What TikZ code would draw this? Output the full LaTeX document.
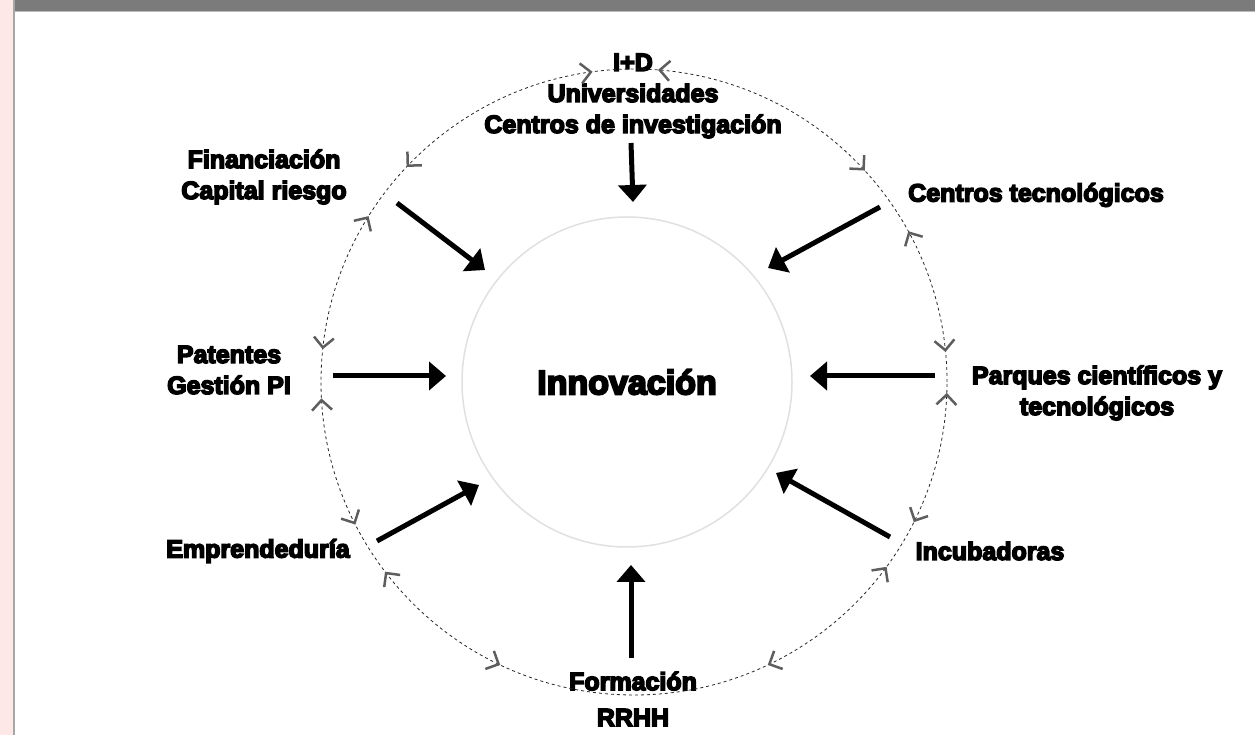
\documentclass[tikz,border=0pt]{standalone}
\usepackage{fontspec}
\setmainfont{Liberation Sans}
\newfontfamily\heavy{Liberation Sans Bold}[FakeBold=6]
\usetikzlibrary{arrows.meta,calc}

\definecolor{bandgray}{HTML}{7B7B7B}
\definecolor{stripink}{HTML}{FDE8E7}
\definecolor{ringgray}{HTML}{5E5E5E}
\definecolor{circgray}{HTML}{E0E0E0}

\tikzset{
	lbl/.style={font=\heavy\fontsize{25}{31}\selectfont, align=center, inner sep=0pt},
	feed/.style={line width=5pt, -{Triangle[length=17pt,width=28pt]}},
	ring/.style={draw=black!85, line width=0.8pt, dash pattern=on 3pt off 3pt},
	ringtip/.style={draw=ringgray, line width=0.1pt, -{Straight Barb[length=10pt,width=20pt,line width=2.5pt,color=ringgray]}},
}

\begin{document}
\begin{tikzpicture}[x=1pt, y=1pt]
	\useasboundingbox (0,0) rectangle (1255,735);

	\fill[stripink] (0,0) rectangle (13,735);
	\fill[gray!70] (13,0) rectangle (14.5,735);
	\fill[bandgray] (14.5,724) rectangle (1255,735);
	\fill[gray!55] (14.5,722.5) rectangle (1255,724);

	\node[circle, draw=circgray, line width=1.5pt, minimum size=330pt, inner sep=0pt,
		font=\heavy\fontsize{34}{40}\selectfont] (innov) at (627,353) {Innovación};

	\node[lbl] (id) at (633,639) {I+D\\Universidades\\Centros de investigación};
	\node[lbl] (fin) at (264,558) {Financiación\\Capital riesgo};
	\node[lbl] (ctec) at (1036,540) {Centros tecnológicos};
	\node[lbl] (pat) at (229,365) {Patentes\\Gestión PI};
	\node[lbl] (parq) at (1097,342) {Parques científicos y\\tecnológicos};
	\node[lbl] (emp) at (258,184) {Emprendeduría};
	\node[lbl] (inc) at (990,184) {Incubadoras};
	\node[lbl] (form) at (633,36) {Formación\\[5pt]RRHH};

	% outer ring, then the tips on it
	\coordinate (ringc) at (634,353);
	\draw[ring] (ringc) circle[radius=313pt];
	\foreach \a/\b in {5.5/28.8, 42.5/85.6, 97.6/136.6, 148/174, 183/207.1, 217.3/244.7, 295.3/323.8, 333.4/358} {
		\draw[ringtip] ($(ringc)+(\a+0.3:313pt)$) arc[start angle=\a+0.3, end angle=\a, radius=313pt];
		\draw[ringtip] ($(ringc)+(\b-0.3:313pt)$) arc[start angle=\b-0.3, end angle=\b, radius=313pt];
	}

	% inputs
	\coordinate (id-s) at (631,592);   \coordinate (id-e) at (633,533);
	\coordinate (fin-s) at (397,532);  \coordinate (fin-e) at (485,465);
	\coordinate (ctec-s) at (880,528); \coordinate (ctec-e) at (768,467);
	\coordinate (pat-s) at (333,359);  \coordinate (pat-e) at (446,359);
	\coordinate (parq-s) at (935,359); \coordinate (parq-e) at (810,359);
	\coordinate (emp-s) at (377,194);  \coordinate (emp-e) at (479,250);
	\coordinate (inc-s) at (890,198);  \coordinate (inc-e) at (776,262);
	\coordinate (form-s) at (631,77);  \coordinate (form-e) at (631,170);

	\foreach \n in {id,fin,ctec,pat,parq,emp,inc,form}
		\draw[feed] (\n-s) -- (\n-e);
\end{tikzpicture}
\end{document}
